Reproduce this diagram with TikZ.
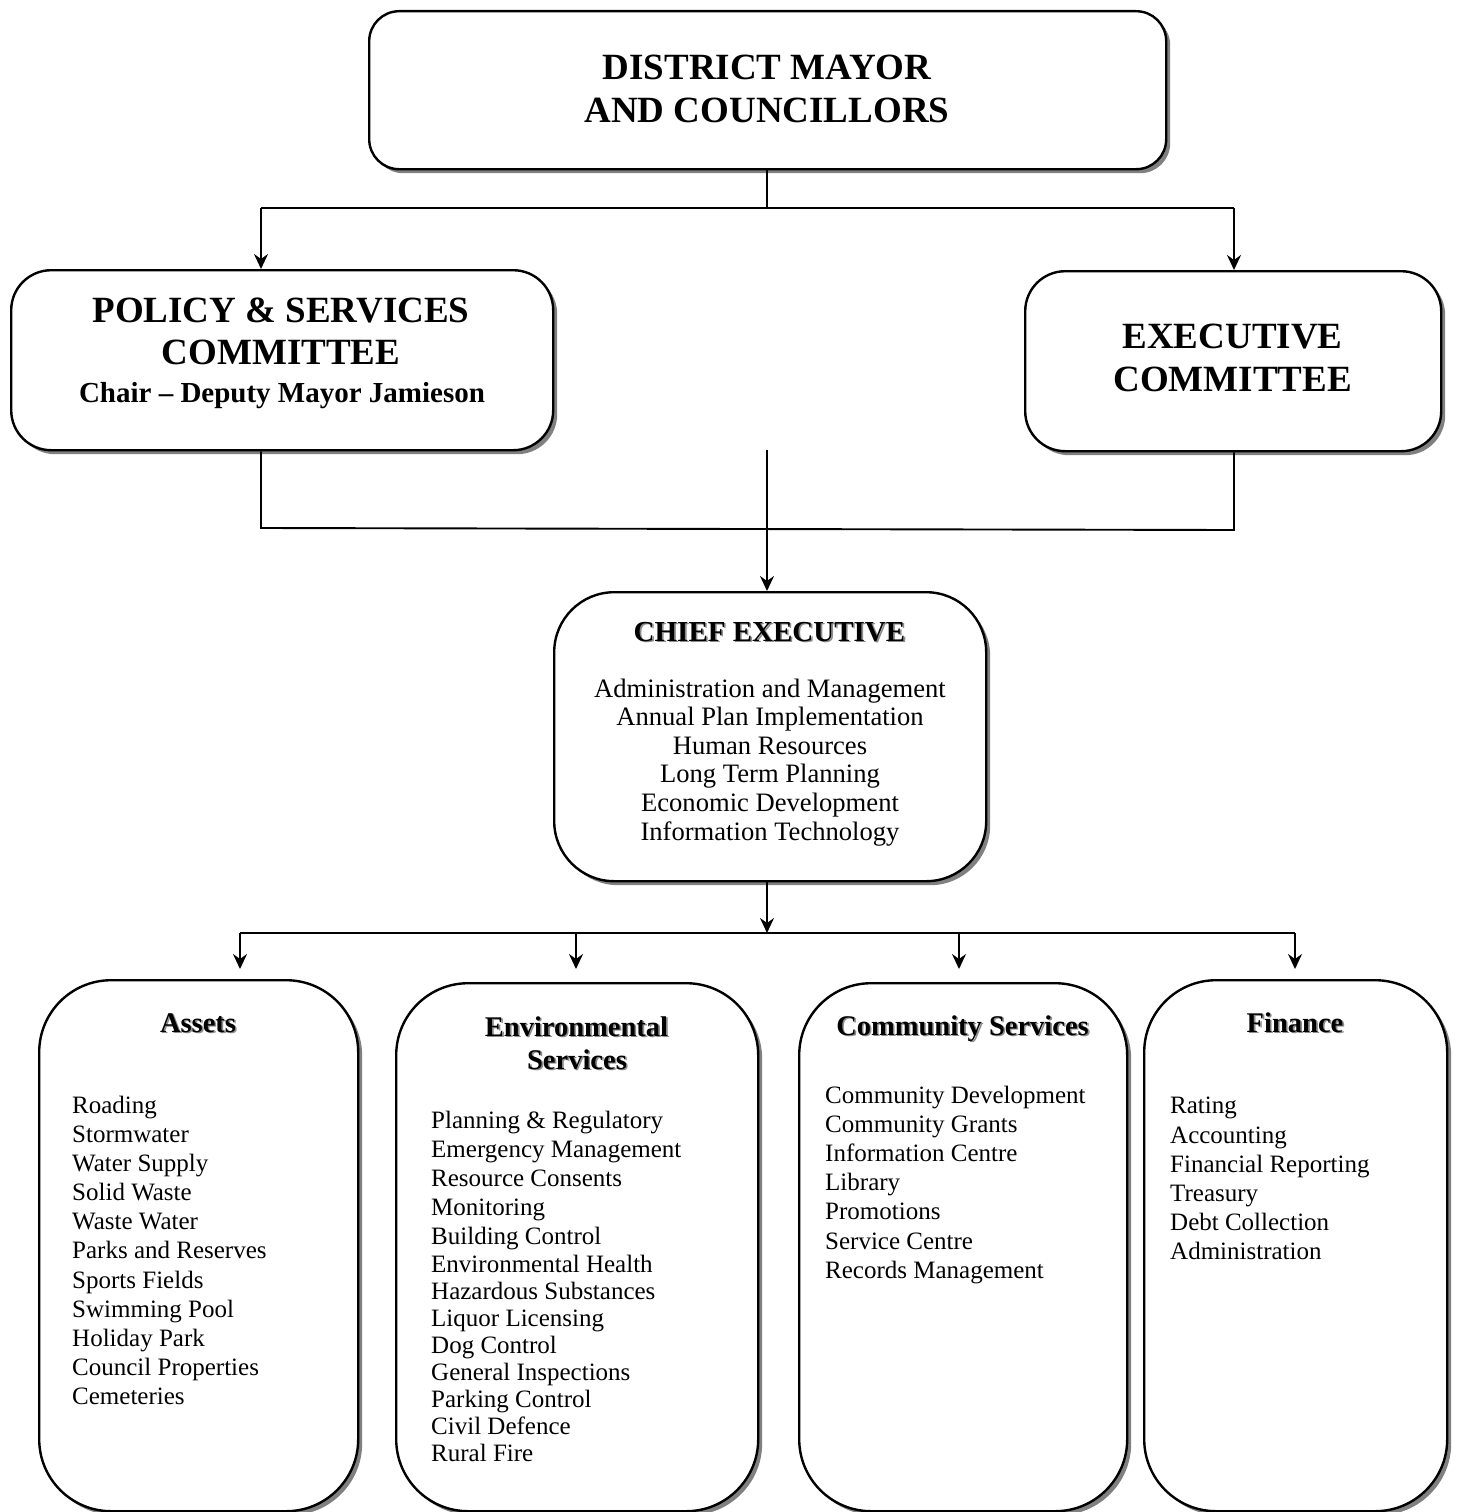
\documentclass[tikz,border=0pt]{standalone}
\usepackage{fontspec}
\setmainfont{Liberation Serif}
\usetikzlibrary{shadows,arrows.meta}
\newcommand\shd[1]{\rlap{\kern1.6pt\raisebox{-1.6pt}{\textcolor{black!45}{#1}}}#1}
\tikzset{
  box/.style={draw=black, line width=2.4pt, fill=white, inner sep=0pt, anchor=north west,
    drop shadow={shadow xshift=4pt, shadow yshift=-4pt, fill=black!50, opacity=1}},
  conn/.style={line width=1.9pt},
  arr/.style={conn, -{Stealth[length=15pt,width=14pt,inset=5pt]}},
  big/.style={font=\bfseries\fontsize{37}{43}\selectfont, anchor=base, inner sep=0pt},
  mid/.style={font=\bfseries\fontsize{29}{34}\selectfont, anchor=base, inner sep=0pt},
  chiefitem/.style={font=\fontsize{26.6}{29}\selectfont, anchor=base, inner sep=0pt},
  item/.style={font=\fontsize{25}{29}\selectfont, anchor=base west, inner sep=0pt},
  head/.style={font=\bfseries\fontsize{28.5}{33}\selectfont, anchor=base, inner sep=0pt}
}
\begin{document}
\begin{tikzpicture}[x=1pt,y=-1pt]
\useasboundingbox (0,0) rectangle (1457,1512);
\fill[white] (0,0) rectangle (1457,1512);

% boxes
\node[box, rounded corners=30pt, minimum width=797pt, minimum height=158pt] (mayor) at (368,10) {};
\node[box, rounded corners=40pt, minimum width=542pt, minimum height=180pt] (pol) at (10,269) {};
\node[box, rounded corners=40pt, minimum width=416pt, minimum height=180pt] (exe) at (1024,270) {};
\node[box, rounded corners=60pt, minimum width=432pt, minimum height=289pt] (chief) at (553,591) {};
\node[box, rounded corners=72pt, minimum width=319pt, minimum height=531pt] (assets) at (38,979) {};
\node[box, rounded corners=72pt, minimum width=362pt, minimum height=528pt] (env) at (395,982) {};
\node[box, rounded corners=72pt, minimum width=328pt, minimum height=528pt] (comm) at (798,982) {};
\node[box, rounded corners=72pt, minimum width=303pt, minimum height=531pt] (fin) at (1143,979) {};

% top texts
\node[big] (m1) at (767,79) {DISTRICT MAYOR};
\node[big] (m2) at (767,122) {AND COUNCILLORS};
\node[big] (p1) at (281,322) {POLICY \& SERVICES};
\node[big] (p2) at (281,364) {COMMITTEE};
\node[mid] (p3) at (282,402) {Chair – Deputy Mayor Jamieson};
\node[big] (e1) at (1232.5,348) {EXECUTIVE};
\node[big] (e2) at (1232.5,391) {COMMITTEE};

% chief texts
\node[mid] (c0) at (769.5,641) {\shd{CHIEF EXECUTIVE}};
\foreach \yy/\t [count=\i] in {697/Administration and Management, 725/Annual Plan Implementation,
  754/Human Resources, 782/Long Term Planning, 811/Economic Development, 840/Information Technology}
  \node[chiefitem] (c\i) at (770,\yy) {\t};

% headings
\node[head] (ha) at (198,1032) {\shd{Assets}};
\node[head] (he1) at (576.5,1036) {\shd{Environmental}};
\node[head] (he2) at (577,1069) {\shd{Services}};
\node[head] (hc) at (962.5,1035) {\shd{Community Services}};
\node[head] (hf) at (1295,1032) {\shd{Finance}};

% lists
\foreach \yy/\t [count=\i] in {1105/Roading, 1134/Stormwater, 1163/Water Supply, 1192/Solid Waste,
  1221/Waste Water, 1250/Parks and Reserves, 1280/Sports Fields, 1309/Swimming Pool,
  1338/Holiday Park, 1367/Council Properties, 1396/Cemeteries}
  \node[item] (a\i) at (72,\yy+8) {\t};
\foreach \yy/\t [count=\i] in {1120/Planning \& Regulatory, 1149/Emergency Management,
  1178/Resource Consents, 1207/Monitoring, 1236/Building Control, 1264/Environmental Health,
  1291/Hazardous Substances, 1318/Liquor Licensing, 1345/Dog Control, 1372/General Inspections,
  1399/Parking Control, 1426/Civil Defence, 1453/Rural Fire}
  \node[item] (v\i) at (431,\yy+8) {\t};
\foreach \yy/\t [count=\i] in {1095/Community Development, 1124/Community Grants,
  1153/Information Centre, 1182/Library, 1211/Promotions, 1241/Service Centre, 1270/Records Management}
  \node[item] (s\i) at (825,\yy+8) {\t};
\foreach \yy/\t [count=\i] in {1105/Rating, 1135/Accounting, 1164/Financial Reporting,
  1193/Treasury, 1222/Debt Collection, 1251/Administration}
  \node[item] (f\i) at (1170,\yy+8) {\t};

% connectors
\coordinate (j1) at (767,208);
\coordinate (jL) at (261,208);
\coordinate (jR) at (1234,208);
\draw[conn] (mayor.south -| j1) -- (j1);
\draw[conn] (jL) -- (jR);
\draw[arr] (jL) -- (jL |- pol.north);
\draw[arr] (jR) -- (jR |- exe.north);

\coordinate (kL) at (261,528);
\coordinate (kR) at (1234,530);
\draw[conn] (kL |- pol.south) -- (kL) -- (kR) -- (kR |- exe.south);
\coordinate (cs) at (767,450);
\draw[arr] (cs) -- (cs |- chief.north);

\coordinate (mm) at (767,933);
\coordinate (mL) at (240,933);
\coordinate (mR) at (1295,933);
\coordinate (mE) at (576,933);
\coordinate (mC) at (959,933);
\draw[arr] (chief.south -| mm) -- (mm);
\draw[conn] (mL) -- (mR);
\draw[arr, shorten >=10pt] (mL) -- (mL |- assets.north);
\draw[arr, shorten >=13pt] (mE) -- (mE |- env.north);
\draw[arr, shorten >=13pt] (mC) -- (mC |- comm.north);
\draw[arr, shorten >=10pt] (mR) -- (mR |- fin.north);
\end{tikzpicture}
\end{document}
